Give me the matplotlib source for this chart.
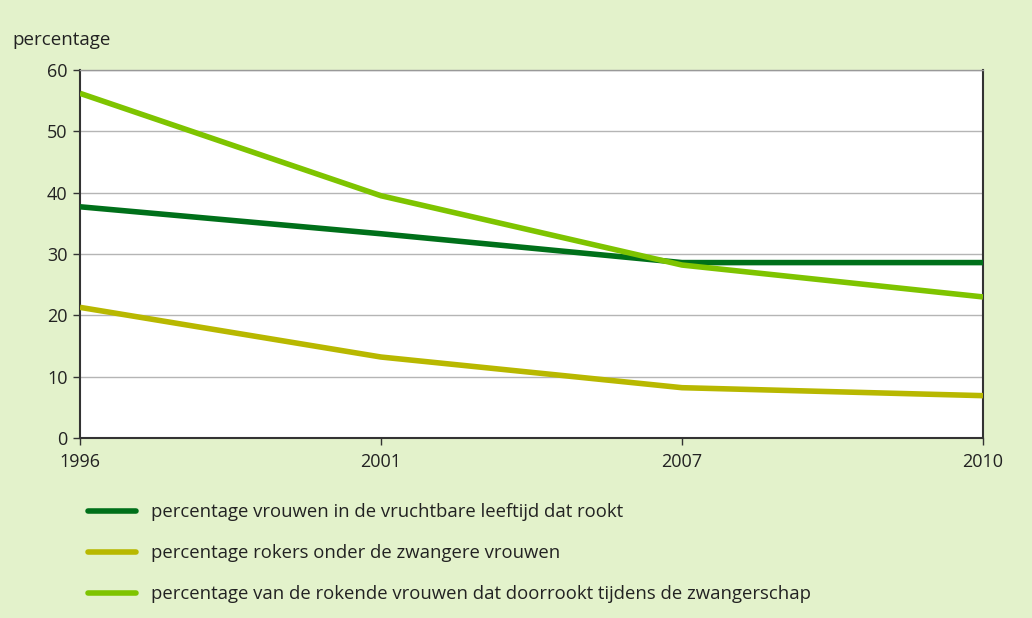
import matplotlib.pyplot as plt
import numpy as np

years = ['1996', '2001', '2007', '2010']
vrouwen_rookt = [37.7, 33.3, 28.6, 28.6]
rokers_zwanger = [21.3, 13.2, 8.2, 6.9]
doorrookt = [56.2, 39.5, 28.2, 23.0]

labels = [
    'percentage vrouwen in de vruchtbare leeftijd dat rookt',
    'percentage rokers onder de zwangere vrouwen',
    'percentage van de rokende vrouwen dat doorrookt tijdens de zwangerschap',
]
colors = ['#00701a', '#b8b800', '#7ec400']

plt.rcParams['font.family'] = ['Open Sans', 'DejaVu Sans']

bg = '#e3f2cb'
fig = plt.figure(figsize=(10.32, 6.18), dpi=100, facecolor=bg)
ax = fig.add_axes([0.0775, 0.2913, 0.875, 0.5954])
ax.set_facecolor('white')

x = np.arange(len(years))
for vals, lab, col in zip([vrouwen_rookt, rokers_zwanger, doorrookt], labels, colors):
    ax.plot(x, vals, color=col, linewidth=4, label=lab, solid_capstyle='butt', zorder=3)

ax.set_xlim(0, len(years) - 1)
ax.set_ylim(0, 60)
ax.set_xticks(x)
ax.set_xticklabels(years)
ax.set_yticks(range(0, 61, 10))
ax.yaxis.grid(True, color='#b5b5b5', linewidth=1)
ax.set_axisbelow(True)

for side in ['left', 'bottom', 'right']:
    ax.spines[side].set_color('#333333')
    ax.spines[side].set_linewidth(1.5)
ax.spines['top'].set_color('#999999')
ax.spines['top'].set_linewidth(1)

ax.tick_params(axis='y', length=5, width=1, color='#333333', labelsize=13, labelcolor='#222222', pad=4)
ax.tick_params(axis='x', length=5, width=1, color='#333333', labelsize=13, labelcolor='#222222', pad=6)

fig.text(0.012, 0.935, 'percentage', fontsize=13.5, color='#222222', va='center')

leg = fig.legend(loc='upper left', bbox_to_anchor=(0.069, 0.213), frameon=False,
                 fontsize=13.3, handlelength=2.6, handletextpad=0.8, labelspacing=1.25)
for t in leg.get_texts():
    t.set_color('#222222')
for h in leg.get_lines():
    h.set_solid_capstyle('round')

fig.savefig('out.png', dpi=100, facecolor=bg)
